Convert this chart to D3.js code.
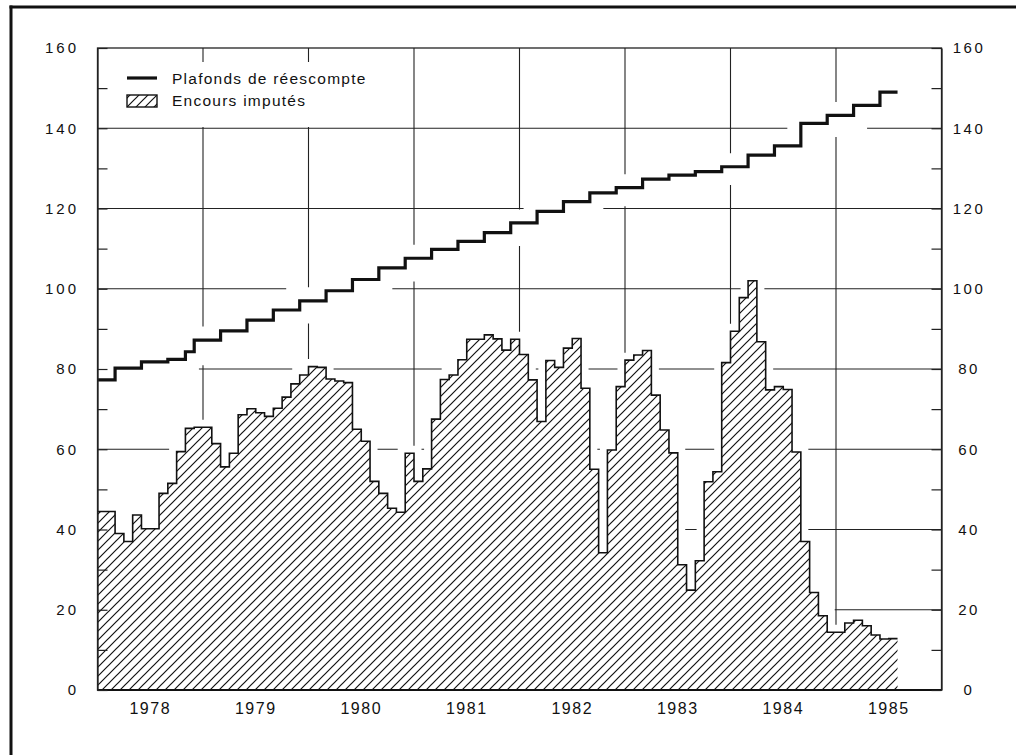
<!DOCTYPE html>
<html>
<head>
<meta charset="utf-8">
<script src="https://cdn.jsdelivr.net/npm/d3@7/dist/d3.min.js"></script>
<style>
  html, body { margin: 0; padding: 0; background: #fff; }
  svg { display: block; }
  text { font-family: "Liberation Sans", Arial, Helvetica, sans-serif; fill: #111; }
</style>
</head>
<body>
<svg id="chart" width="1016" height="755"></svg>
<script>
// ---- Data (monthly, January 1978 to July 1985) ----
const years = [1978, 1979, 1980, 1981, 1982, 1983, 1984, 1985];
const yTicks = [0, 20, 40, 60, 80, 100, 120, 140, 160];
const seriesNames = ["Plafonds de réescompte", "Encours imputés"];

// Encours imputés (hatched area)
const encours = [
  44.5, 44.5, 39.0, 37.0, 43.6, 40.2, 40.2, 49.0, 51.5, 59.4, 65.2, 65.5,   // 1978
  65.5, 61.4, 55.6, 59.0, 68.6, 70.1, 69.1, 68.2, 70.2, 73.0, 76.3, 78.5,   // 1979
  80.6, 80.4, 77.5, 77.0, 76.6, 65.0, 62.0, 52.0, 49.0, 45.3, 44.3, 59.0,   // 1980
  52.0, 55.1, 67.5, 77.4, 78.5, 82.3, 87.4, 87.4, 88.5, 87.5, 84.7, 87.4,   // 1981
  83.6, 77.3, 66.9, 82.1, 80.4, 85.2, 87.6, 75.2, 55.0, 34.2, 59.8, 75.6,   // 1982
  82.2, 83.5, 84.6, 73.5, 64.8, 59.1, 31.2, 24.9, 32.2, 51.9, 54.4, 81.6,   // 1983
  89.4, 97.8, 102.0, 86.8, 74.8, 75.6, 74.9, 59.3, 37.0, 24.3, 18.5, 14.4,  // 1984
  14.4, 16.7, 17.4, 16.0, 13.7, 12.7, 12.8                                   // 1985
];

// Plafonds de réescompte (step line)
const plafonds = [
  77.3, 77.3, 80.2, 80.2, 80.2, 81.8, 81.8, 81.8, 82.4, 82.4, 84.3, 87.2,   // 1978
  87.2, 87.2, 89.5, 89.5, 89.5, 92.2, 92.2, 92.2, 94.7, 94.7, 94.7, 97.0,   // 1979
  97.0, 97.0, 99.5, 99.5, 99.5, 102.3, 102.3, 102.3, 105.2, 105.2, 105.2, 107.6, // 1980
  107.6, 107.6, 109.8, 109.8, 109.8, 111.8, 111.8, 111.8, 114.0, 114.0, 114.0, 116.4, // 1981
  116.4, 116.4, 119.3, 119.3, 119.3, 121.7, 121.7, 121.7, 123.9, 123.9, 123.9, 125.2, // 1982
  125.2, 125.2, 127.3, 127.3, 127.3, 128.3, 128.3, 128.3, 129.2, 129.2, 129.2, 130.4, // 1983
  130.4, 130.4, 133.3, 133.3, 133.3, 135.6, 135.6, 135.6, 141.2, 141.2, 141.2, 143.2, // 1984
  143.2, 143.2, 145.7, 145.7, 145.7, 149.0, 149.0                                    // 1985
];

// ---- Layout ----
const svg = d3.select("#chart");
const pLeft = 97.5, pRight = 941.5, pTop = 48, pBottom = 690;
const nMonths = years.length * 12;

const x = d3.scaleLinear().domain([0, nMonths]).range([pLeft, pRight]);
const y = d3.scaleLinear().domain([0, 160]).range([pBottom, pTop]);

const toPts = arr => {
  const p = arr.map((v, i) => ({ m: i, v }));
  p.push({ m: arr.length, v: arr[arr.length - 1] });
  return p;
};
const encPts = toPts(encours);
const plaPts = toPts(plafonds);

const area = d3.area().x(d => x(d.m)).y0(y(0)).y1(d => y(d.v)).curve(d3.curveStepAfter);
const line = d3.line().x(d => x(d.m)).y(d => y(d.v)).curve(d3.curveStepAfter);

// hatch pattern
const defs = svg.append("defs");
const pat = defs.append("pattern")
  .attr("id", "hatch").attr("patternUnits", "userSpaceOnUse")
  .attr("width", 9).attr("height", 9);
pat.append("path")
  .attr("d", "M-1,1 L1,-1 M0,9 L9,0 M8,10 L10,8")
  .attr("stroke", "#111").attr("stroke-width", 1.2).attr("fill", "none");

// outer frame
svg.append("line").attr("x1", 9.5).attr("x2", 1016).attr("y1", 7).attr("y2", 7)
  .attr("stroke", "#111").attr("stroke-width", 3);
svg.append("line").attr("x1", 11).attr("x2", 11).attr("y1", 5.5).attr("y2", 755)
  .attr("stroke", "#111").attr("stroke-width", 3);

// grid
const grid = svg.append("g").attr("stroke", "#222").attr("stroke-width", 1.1);
grid.selectAll("line.h").data(yTicks.filter(t => t > 0 && t < 160)).join("line")
  .attr("class", "h")
  .attr("x1", pLeft).attr("x2", pRight)
  .attr("y1", d => y(d)).attr("y2", d => y(d));
grid.selectAll("line.v").data(years.slice(1)).join("line")
  .attr("class", "v")
  .attr("x1", (d, i) => x((i + 1) * 12)).attr("x2", (d, i) => x((i + 1) * 12))
  .attr("y1", pTop).attr("y2", pBottom);

// knock-out halos around the data
svg.append("path").datum(encPts).attr("d", area)
  .attr("fill", "#fff").attr("stroke", "#fff").attr("stroke-width", 15)
  .attr("stroke-linejoin", "miter");
svg.append("path").datum(plaPts).attr("d", line)
  .attr("fill", "none").attr("stroke", "#fff").attr("stroke-width", 27)
  .attr("stroke-linejoin", "miter");

// legend background
svg.append("rect").attr("x", pLeft + 1).attr("y", 62).attr("width", 302).attr("height", 65)
  .attr("fill", "#fff");

// hatched area + outline
svg.append("path").datum(encPts).attr("d", area).attr("fill", "url(#hatch)");
svg.append("path").datum(encPts).attr("d", line)
  .attr("fill", "none").attr("stroke", "#111").attr("stroke-width", 1.6);

// step line
svg.append("path").datum(plaPts).attr("d", line)
  .attr("fill", "none").attr("stroke", "#111").attr("stroke-width", 3.2)
  .attr("stroke-linejoin", "miter");

// plot frame
svg.append("rect").attr("x", pLeft).attr("y", pTop)
  .attr("width", pRight - pLeft).attr("height", pBottom - pTop)
  .attr("fill", "none").attr("stroke", "#222").attr("stroke-width", 1.3);
svg.append("line").attr("x1", pLeft).attr("x2", pRight).attr("y1", pBottom).attr("y2", pBottom)
  .attr("stroke", "#111").attr("stroke-width", 1.8);

// axes with inward ticks
const tickVals = d3.range(0, 161, 10);
const yAxisL = d3.axisLeft(y).tickValues(tickVals).tickSizeInner(-10).tickSizeOuter(0).tickFormat("");
const yAxisR = d3.axisRight(y).tickValues(tickVals).tickSizeInner(-10).tickSizeOuter(0).tickFormat("");
const gL = svg.append("g").attr("transform", `translate(${pLeft},0)`).call(yAxisL);
const gR = svg.append("g").attr("transform", `translate(${pRight},0)`).call(yAxisR);
[gL, gR].forEach(g => {
  g.select(".domain").attr("stroke", "#222").attr("stroke-width", 1.3);
  g.selectAll(".tick line").attr("stroke", "#222").attr("stroke-width", 1.2);
});

// y labels
svg.append("g").selectAll("text").data(yTicks).join("text")
  .attr("x", 79).attr("y", d => y(d)).attr("dy", "0.36em")
  .attr("text-anchor", "end").attr("font-size", 15).attr("letter-spacing", 3)
  .text(d => d);
svg.append("g").selectAll("text").data(yTicks).join("text")
  .attr("x", 969).attr("y", d => y(d)).attr("dy", "0.36em")
  .attr("text-anchor", "middle").attr("font-size", 15).attr("letter-spacing", 2.5)
  .text(d => d);

// x labels (centred in each year)
svg.append("g").selectAll("text").data(years).join("text")
  .attr("x", (d, i) => x(i * 12 + 6)).attr("y", 714)
  .attr("text-anchor", "middle").attr("font-size", 16).attr("letter-spacing", 1.5)
  .text(d => d);

// legend
const lg = svg.append("g");
lg.append("line").attr("x1", 127).attr("x2", 157).attr("y1", 78).attr("y2", 78)
  .attr("stroke", "#111").attr("stroke-width", 3.2);
lg.append("rect").attr("x", 127).attr("y", 95).attr("width", 30).attr("height", 12)
  .attr("fill", "url(#hatch)").attr("stroke", "#111").attr("stroke-width", 1.4);
lg.selectAll("text").data(seriesNames).join("text")
  .attr("x", 172).attr("y", (d, i) => 84 + i * 22)
  .attr("font-size", 15.5).attr("letter-spacing", 1.25)
  .text(d => d);
</script>
</body>
</html>
